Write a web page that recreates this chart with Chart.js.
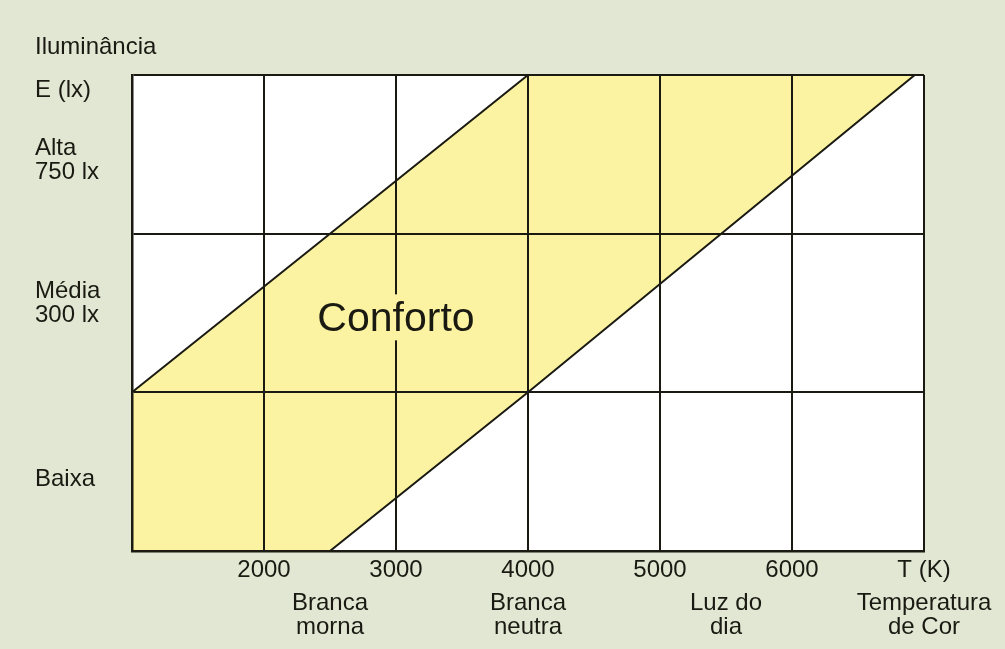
<!DOCTYPE html>
<html>
<head>
<meta charset="utf-8">
<script src="https://cdn.jsdelivr.net/npm/chart.js@4"></script>
<style>
  html, body { margin: 0; padding: 0; background: #e1e7d3; }
  #wrap { width: 1005px; height: 649px; }
</style>
</head>
<body>
<div id="wrap"><canvas id="kruithof"></canvas></div>
<script>
// Temperatura de cor (K) - grade e rótulos
const tempTicks = [1000, 2000, 3000, 4000, 5000, 6000, 7000];
const tempLabels = ['', '2000', '3000', '4000', '5000', '6000', 'T (K)'];
const lightPositions = [2500, 4000, 5500, 7000];
const lightNames = [['Branca', 'morna'], ['Branca', 'neutra'], ['Luz do', 'dia'], ['Temperatura', 'de Cor']];

// Iluminância - níveis
const levelTicks = [0, 1, 2, 3];
const levelPositions = [0.45, 1.56, 2.46, 2.9];
const levelNames = ['Baixa', ['Média', '300 lx'], ['Alta', '750 lx'], 'E (lx)'];

// Limites da zona de conforto
const boundaryTemps = [1000, 2500, 4000, 6930];
const upperLimit = [1, 2, 3, 3];
const lowerLimit = [0, 0, 1, 3];
const comfortLabel = 'Conforto';
const comfortPos = [3000, 1.46];

const FONT = "'Liberation Sans', Arial, sans-serif";
const INK = '#1a1a12';
const YELLOW = '#fbf3a2';

const bgPlugin = {
  id: 'bg',
  beforeDraw(chart) {
    const { ctx, chartArea: a } = chart;
    ctx.save();
    ctx.fillStyle = '#e1e7d3';
    ctx.fillRect(0, 0, chart.width, chart.height);
    ctx.fillStyle = '#ffffff';
    ctx.fillRect(a.left, a.top, a.right - a.left, a.bottom - a.top);
    ctx.restore();
  },
  afterDraw(chart) {
    // rótulo "Conforto" com fundo amarelo, por cima da grade
    const { ctx } = chart;
    const x = chart.scales.x.getPixelForValue(comfortPos[0]);
    const y = chart.scales.y.getPixelForValue(comfortPos[1]);
    ctx.save();
    ctx.font = '41px ' + FONT;
    const w = ctx.measureText(comfortLabel).width;
    ctx.fillStyle = YELLOW;
    ctx.fillRect(x - w / 2 - 4, y - 25, w + 8, 46);
    ctx.fillStyle = INK;
    ctx.textAlign = 'center';
    ctx.textBaseline = 'middle';
    ctx.fillText(comfortLabel, x, y);
    ctx.restore();
  }
};

const toPoints = (xs, ys) => xs.map((v, i) => ({ x: v, y: ys[i] }));
const noPad = s => { s.paddingLeft = 0; s.paddingRight = 0; s.paddingTop = 0; s.paddingBottom = 0; };
const labelFont = { family: FONT, size: 24, lineHeight: 1.0 };

new Chart(document.getElementById('kruithof'), {
  type: 'line',
  data: {
    datasets: [
      {
        label: 'limite superior',
        data: toPoints(boundaryTemps, upperLimit),
        borderColor: INK,
        borderWidth: 2,
        pointRadius: 0,
        tension: 0,
        fill: '+1',
        backgroundColor: YELLOW
      },
      {
        label: 'limite inferior',
        data: toPoints(boundaryTemps, lowerLimit),
        borderColor: INK,
        borderWidth: 2,
        pointRadius: 0,
        tension: 0,
        fill: false
      }
    ]
  },
  options: {
    responsive: true,
    maintainAspectRatio: false,
    animation: false,
    layout: { padding: { left: 35, right: 81, top: 0, bottom: 10 } },
    plugins: {
      legend: { display: false },
      tooltip: { enabled: false },
      filler: { drawTime: 'beforeDatasetsDraw' },
      title: {
        display: true,
        text: 'Iluminância',
        align: 'start',
        color: INK,
        font: { family: FONT, size: 24, weight: 'normal', lineHeight: 1.0 },
        padding: { top: 35, bottom: 16 }
      }
    },
    scales: {
      x: {
        type: 'linear',
        position: 'bottom',
        weight: 0,
        min: 1000,
        max: 7000,
        afterBuildTicks: s => { s.ticks = tempTicks.map(v => ({ value: v })); },
        afterFit: s => { noPad(s); s.height = 31; },
        grid: { color: INK, lineWidth: 2, drawTicks: false, z: 1 },
        border: { color: INK, width: 2.5, z: 2 },
        ticks: {
          padding: 7,
          maxRotation: 0,
          autoSkip: false,
          color: INK,
          font: labelFont,
          callback: (v, i) => tempLabels[i]
        }
      },
      x2: {
        type: 'linear',
        position: 'bottom',
        weight: 1,
        min: 1000,
        max: 7000,
        afterBuildTicks: s => { s.ticks = lightPositions.map(v => ({ value: v })); },
        afterFit: s => { noPad(s); s.height = 57; },
        grid: { display: false, drawTicks: false },
        border: { display: false },
        ticks: {
          padding: 9,
          maxRotation: 0,
          autoSkip: false,
          color: INK,
          font: labelFont,
          callback: (v, i) => lightNames[i]
        }
      },
      y: {
        type: 'linear',
        position: 'left',
        weight: 0,
        min: 0,
        max: 3,
        afterBuildTicks: s => { s.ticks = levelTicks.map(v => ({ value: v })); },
        afterFit: s => { noPad(s); s.width = 0; },
        grid: { color: INK, lineWidth: 2, drawTicks: false, z: 1 },
        border: { color: INK, width: 2.5, z: 2 },
        ticks: { display: false }
      },
      yl: {
        type: 'linear',
        position: 'left',
        weight: 1,
        min: 0,
        max: 3,
        afterBuildTicks: s => { s.ticks = levelPositions.map(v => ({ value: v })); },
        afterFit: s => { noPad(s); s.width = 97; },
        grid: { display: false, drawTicks: false },
        border: { display: false },
        ticks: {
          crossAlign: 'far',
          padding: 0,
          autoSkip: false,
          color: INK,
          font: labelFont,
          callback: (v, i) => levelNames[i]
        }
      }
    }
  },
  plugins: [bgPlugin]
});
</script>
</body>
</html>
